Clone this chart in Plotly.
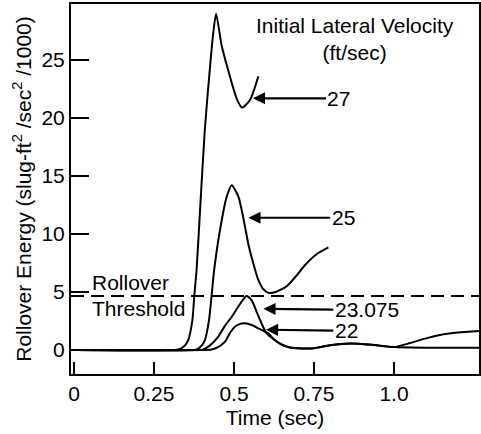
import plotly.graph_objects as go

# ---- data ----
time_27 = [0, 0.30, 0.326, 0.345, 0.357, 0.370, 0.376, 0.383, 0.395, 0.409, 0.425, 0.435, 0.444,
           0.461, 0.482, 0.508, 0.525, 0.550, 0.576]
energy_27 = [0, 0, 0.05, 0.35, 0.86, 2.6, 4.7, 6.9, 12.6, 19.1, 24.4, 27.3, 29.0,
             26.3, 24.1, 21.7, 20.9, 21.55, 23.6]

time_25 = [0, 0.36, 0.383, 0.398, 0.409, 0.422, 0.430, 0.438, 0.456, 0.477, 0.493, 0.514, 0.529,
           0.545, 0.560, 0.575, 0.590, 0.607, 0.630, 0.665, 0.695, 0.722, 0.760, 0.795]
energy_25 = [0, 0, 0.05, 0.35, 0.86, 2.6, 4.7, 6.9, 10.3, 13.2, 14.2, 13.2, 11.4,
             9.1, 7.5, 6.1, 5.3, 4.94, 5.0, 5.5, 6.4, 7.33, 8.3, 8.85]

time_23075 = [0, 0.38, 0.404, 0.425, 0.451, 0.472, 0.493, 0.510, 0.524, 0.539, 0.552, 0.562, 0.572,
              0.586, 0.600, 0.625, 0.650, 0.675, 0.700, 0.727, 0.760, 0.800, 0.8625, 0.930, 1.000,
              1.050, 1.100, 1.144, 1.200, 1.266]
energy_23075 = [0, 0, 0.05, 0.4, 1.15, 2.1, 2.87, 3.6, 4.17, 4.65, 4.4, 3.9, 3.2,
                2.3, 1.5, 0.9, 0.45, 0.22, 0.15, 0.12, 0.2, 0.4, 0.56, 0.45, 0.25,
                0.6, 1.0, 1.29, 1.5, 1.64]

time_22 = [0, 0.40, 0.430, 0.450, 0.472, 0.488, 0.503, 0.519, 0.534, 0.555, 0.576, 0.592, 0.607,
           0.625, 0.650, 0.675, 0.700, 0.727, 0.760, 0.800, 0.8625, 0.930, 1.000, 1.100, 1.266]
energy_22 = [0, 0, 0.05, 0.25, 0.72, 1.5, 2.0, 2.25, 2.3, 2.15, 1.87, 1.65, 1.43,
             0.9, 0.45, 0.22, 0.15, 0.12, 0.2, 0.4, 0.56, 0.45, 0.25, 0.2, 0.2]

rollover_threshold = 4.65

x_tick_vals = [0, 0.25, 0.5, 0.75, 1.0]
x_tick_text = ["0", "0.25", "0.5", "0.75", "1.0"]
y_tick_vals = [0, 5, 10, 15, 20, 25]
y_tick_text = ["0", "5", "10", "15", "20", "25"]

# label positions: (series label, arrow tip x, arrow tip y, label x, label y)
arrow_labels = [
    ("27", 0.559, 21.7, 0.828, 21.7),
    ("25", 0.545, 11.4, 0.841, 11.4),
    ("23.075", 0.592, 3.55, 0.915, 3.45),
    ("22", 0.600, 1.75, 0.851, 1.65),
]

FONT = "Liberation Sans, Arial, Helvetica, sans-serif"
FS = 21

fig = go.Figure()
for name, t, e in [("27", time_27, energy_27), ("25", time_25, energy_25),
                   ("23.075", time_23075, energy_23075), ("22", time_22, energy_22)]:
    fig.add_trace(go.Scatter(x=t, y=e, mode="lines", name=name,
                             line=dict(color="black", width=2, shape="spline", smoothing=0.6),
                             showlegend=False, hoverinfo="skip"))

fig.add_hline(y=rollover_threshold, line=dict(color="black", width=2, dash="13px,7px"))

for lab, xt, yt, xl, yl in arrow_labels:
    fig.add_annotation(x=xt, y=yt, ax=xl, ay=yl, xref="x", yref="y", axref="x", ayref="y",
                       text=lab, showarrow=True, arrowhead=2, arrowsize=1.1, arrowwidth=2.2,
                       arrowcolor="black", standoff=0, font=dict(size=FS, color="black", family=FONT))

fig.add_annotation(x=0.878, y=26.8, xref="x", yref="y", showarrow=False,
                   text="Initial Lateral Velocity<br>(ft/sec)",
                   font=dict(size=FS, color="black", family=FONT))
fig.add_annotation(x=0.05, y=5.78, xref="x", yref="y", showarrow=False, xanchor="left",
                   text="Rollover", font=dict(size=FS, color="black", family=FONT))
fig.add_annotation(x=0.05, y=3.6, xref="x", yref="y", showarrow=False, xanchor="left",
                   text="Threshold", font=dict(size=FS, color="black", family=FONT))

axis_common = dict(showgrid=False, zeroline=False, showline=True, linewidth=2, linecolor="black",
                   mirror=True, ticks="inside", tickwidth=2, tickcolor="black", automargin=False,
                   tickfont=dict(size=FS, color="black", family=FONT))

fig.update_layout(
    width=481, height=434,
    margin=dict(l=71, r=2, t=4, b=60),
    paper_bgcolor="white", plot_bgcolor="white",
    font=dict(family=FONT, size=FS, color="black"),
    xaxis=dict(range=[-0.0094, 1.2656], tickvals=x_tick_vals, ticktext=x_tick_text,
               ticklen=12, title=dict(text="Time (sec)", font=dict(size=FS), standoff=6),
               **axis_common),
    yaxis=dict(range=[-2.07, 29.83], tickvals=y_tick_vals, ticktext=y_tick_text,
               ticklen=18,
               title=dict(text="Rollover Energy (slug-ft<sup>2</sup> /sec<sup>2</sup> /1000)",
                          font=dict(size=FS), standoff=4),
               **axis_common),
)

fig.write_html("out.html", config={"displayModeBar": False},
               post_script="document.body.style.margin='0';document.body.style.overflow='hidden';")
